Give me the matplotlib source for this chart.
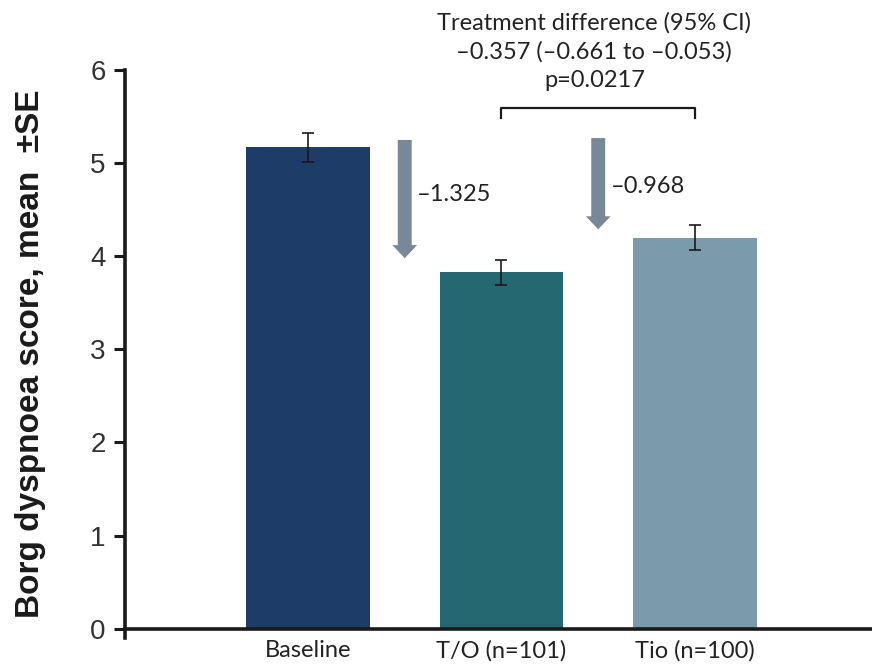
import matplotlib
matplotlib.use("Agg")
import matplotlib.pyplot as plt
from matplotlib.patches import FancyArrow

categories = ["Baseline", "T/O (n=101)", "Tio (n=100)"]
means = [5.17, 3.83, 4.20]
se = [0.16, 0.134, 0.134]
bar_colors = ["#1d3d68", "#256872", "#7b9aaa"]
changes = ["\u20131.325", "\u20130.968"]
diff_lines = ["Treatment difference (95% CI)",
              "\u20130.357 (\u20130.661 to \u20130.053)",
              "p=0.0217"]
yticks = [0, 1, 2, 3, 4, 5, 6]

note_font = "Lato"

fig = plt.figure(figsize=(8.72, 6.68), dpi=100)
ax = fig.add_axes([0.1433, 0.045, 0.8567, 0.85])

for s in ["top", "right"]:
    ax.spines[s].set_visible(False)
ax.spines["bottom"].set_position(("data", 0))
ax.spines["left"].set_bounds(-0.1, 6)
for s in ["bottom", "left"]:
    ax.spines[s].set_linewidth(2.6)
    ax.spines[s].set_color("#1a1a1a")

x = list(range(len(categories)))
ax.bar(x, means, width=0.64, color=bar_colors, zorder=2)
ax.errorbar(x, means, yerr=se, fmt="none", ecolor="#1a1a1a",
            elinewidth=1.2, capsize=4.5, capthick=1.2, zorder=3)

ax.set_xlim(-0.946, 2.915)
ax.set_ylim(-0.1, 6)
ax.set_yticks(yticks)
ax.set_yticklabels([str(t) for t in yticks], fontsize=20,
                   family="Liberation Sans", color="#333333")
ax.set_xticks(x)
ax.set_xticklabels(categories, fontsize=17, family=note_font, color="#222222")
ax.tick_params(axis="y", length=8, width=2.2, color="#1a1a1a", pad=6)
ax.tick_params(axis="x", length=0, pad=8)

ax.set_ylabel("Borg dyspnoea score, mean  \u00b1SE", fontsize=24,
              fontweight="bold", family="Liberation Sans", color="#1a1a1a",
              labelpad=32)

# change-from-baseline arrows
arrow_color = "#788896"
arrow_specs = [(0.5, means[0] + 0.08, means[1] + 0.15),
               (1.5, means[0] + 0.10, means[2] + 0.09)]
label_y = [4.66, 4.75]
for (ax_x, y_top, y_tip), label, ly in zip(arrow_specs, changes, label_y):
    ax.add_patch(FancyArrow(ax_x, y_top, 0, y_tip - y_top, width=0.072,
                            head_width=0.128, head_length=0.14,
                            length_includes_head=True, color=arrow_color,
                            lw=0, zorder=2))
    ax.text(ax_x + 0.065, ly, label, fontsize=17, family=note_font,
            color="#222222", ha="left", va="center")

# bracket between the two treatment arms
br_y, br_drop = 5.595, 0.105
ax.plot([1, 1, 2, 2], [br_y - br_drop, br_y, br_y, br_y - br_drop],
        color="#1a1a1a", lw=1.6, clip_on=False)
for i, line in enumerate(diff_lines):
    ax.text(1.48, 6.505 - i * 0.306, line, fontsize=17, family=note_font,
            color="#222222", ha="center", va="center", clip_on=False)

fig.savefig("out.png", dpi=100)
